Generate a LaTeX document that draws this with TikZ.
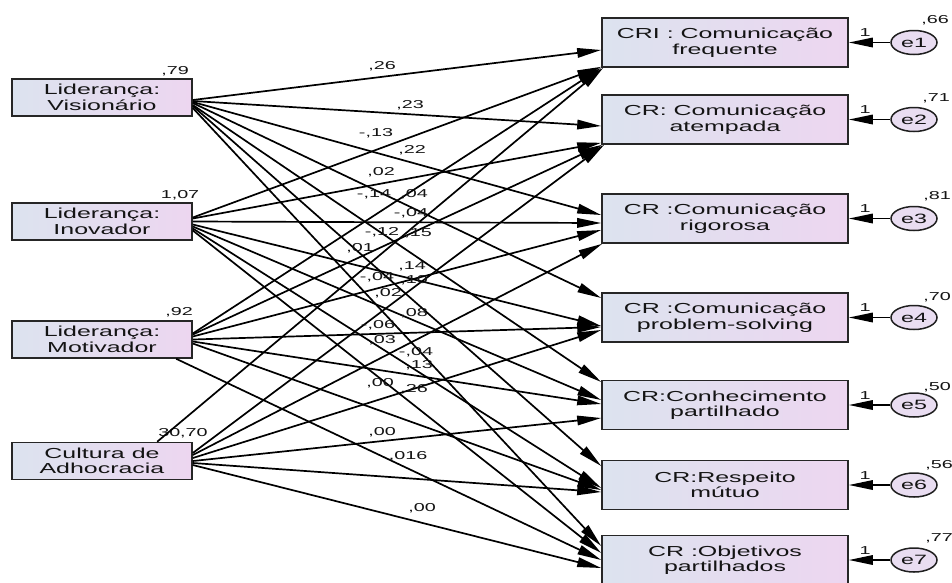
\documentclass[tikz,border=0pt]{standalone}
\usepackage{fontspec}
\setmainfont{Liberation Sans}
\newfontfamily\widesans[FakeStretch=1.72]{Liberation Sans}
\usetikzlibrary{arrows.meta,calc,shapes.geometric}
\definecolor{boxL}{RGB}{220,227,239}
\definecolor{boxR}{RGB}{237,214,240}
\definecolor{errfill}{RGB}{233,221,241}
\begin{document}
\begin{tikzpicture}[x=1pt,y=-1pt,
  every node/.style={text=black!92},
  varbox/.style={draw=black!85, line width=1.6pt, left color=boxL, right color=boxR,
    inner sep=0pt, align=center, font=\widesans\fontsize{14.5}{15.5}\selectfont},
  exo/.style={varbox, minimum width=180pt, minimum height=37pt},
  endo/.style={varbox, minimum width=246pt, minimum height=49pt},
  err/.style={ellipse, draw=black!88, line width=1.5pt, fill=errfill,
    minimum width=46pt, minimum height=24pt, inner sep=0pt,
    font=\widesans\fontsize{13.5}{13.5}\selectfont},
  coef/.style={inner sep=0pt, font=\widesans\fontsize{11.5}{11.5}\selectfont},
  regpath/.style={line width=1.7pt, -{Triangle[length=24pt,width=9.5pt]}},
]
\useasboundingbox[fill=white] (0,0) rectangle (952,582);

% exogenous variables
\node[exo] (vis) at (102,97.5)  {Liderança:\\Visionário};
\node[exo] (ino) at (102,221.5) {Liderança:\\Inovador};
\node[exo] (mot) at (102,339.5) {Liderança:\\Motivador};
\node[exo] (cul) at (102,461)   {Cultura de\\Adhocracia};

% endogenous variables
\node[endo] (r1) at (725,42.5)  {CRI : Comunicação\\frequente};
\node[endo] (r2) at (725,119.5) {CR: Comunicação\\atempada};
\node[endo] (r3) at (725,218.5) {CR :Comunicação\\rigorosa};
\node[endo] (r4) at (725,317.5) {CR :Comunicação\\problem-solving};
\node[endo] (r5) at (725,405)   {CR:Conhecimento\\partilhado};
\node[endo] (r6) at (725,485)   {CR:Respeito\\mútuo};
\node[endo] (r7) at (725,560)   {CR :Objetivos\\partilhados};

% error terms
\foreach \i/\y in {1/42.5,2/119.5,3/218.5,4/317.5,5/405,6/485,7/560}{
  \node[err] (e\i) at (914,\y) {e\i};
  \draw[regpath] (e\i) -- (r\i);
  \node[coef] at (865,\y-9.5) {1};
}

% variances
\node[coef] at (175,71)  {,79};
\node[coef] at (180,195) {1,07};
\node[coef] at (179,312) {,92};
\node[coef] at (183,433) {30,70};
\node[coef] at (935,20)  {,66};
\node[coef] at (936,98)  {,71};
\node[coef] at (937,196) {,81};
\node[coef] at (937,297) {,70};
\node[coef] at (937,387) {,50};
\node[coef] at (939,465) {,56};
\node[coef] at (939,538) {,77};

% paths from Visionario
\draw[regpath] ($(vis.east)+(0,2.5)$)  -- ($(r1.west)+(0,7.5)$);
\draw[regpath] ($(vis.east)+(0,3.5)$)  -- ($(r2.west)+(0,6.5)$);
\draw[regpath] ($(vis.east)+(0,4.5)$)  -- ($(r3.west)+(0,-3.5)$);
\draw[regpath] ($(vis.east)+(0,5.5)$)  -- ($(r4.west)+(0,-19.5)$);
\draw[regpath] ($(vis.east)+(0,7.5)$)  -- ($(r5.west)+(0,-23)$);
\draw[regpath] ($(vis.east)+(0,8.5)$)  -- ($(r6.west)+(0,-19)$);
\draw[regpath] ($(vis.east)+(0,10.5)$) -- ($(r7.west)+(0,-14)$);

% paths from Inovador
\draw[regpath] ($(ino.east)+(0,-4)$) -- ($(r1.south west)+(0,-1)$);
\draw[regpath] ($(ino.east)+(0,-3)$) -- ($(r2.south west)+(0,-2)$);
\draw[regpath] ($(ino.east)+(0,0)$)  -- ($(r3.west)+(0,4.5)$);
\draw[regpath] ($(ino.east)+(0,3)$)  -- ($(r4.west)+(0,8.5)$);
\draw[regpath] ($(ino.east)+(0,5)$)  -- ($(r5.west)+(0,-5)$);
\draw[regpath] ($(ino.east)+(0,7)$)  -- ($(r6.west)+(0,3)$);
\draw[regpath] ($(ino.east)+(0,9)$)  -- ($(r7.west)+(0,-7)$);

% paths from Motivador
\draw[regpath] ($(mot.east)+(0,-6)$) -- (r1.south west);
\draw[regpath] ($(mot.east)+(0,-5)$) -- ($(r2.south west)+(1,0)$);
\draw[regpath] ($(mot.east)+(0,-3)$) -- ($(r3.west)+(0,11.5)$);
\draw[regpath] ($(mot.east)+(0,0)$)  -- ($(r4.west)+(0,9.5)$);
\draw[regpath] ($(mot.east)+(0,2)$)  -- ($(r5.west)+(0,-1)$);
\draw[regpath] ($(mot.east)+(0,4)$)  -- ($(r6.west)+(0,5)$);
\draw[regpath] ($(mot.south west)+(165,0)$) -- ($(r7.west)+(0,0)$);

% paths from Cultura de Adhocracia
\draw[regpath] ($(cul.north west)+(146,0)$) -- ($(r1.south west)+(2,0)$);
\draw[regpath] ($(cul.east)+(0,-8)$) -- ($(r2.south west)+(3,0)$);
\draw[regpath] ($(cul.east)+(0,-6)$) -- ($(r3.south west)+(1,0)$);
\draw[regpath] ($(cul.east)+(0,-3)$) -- ($(r4.west)+(0,12.5)$);
\draw[regpath] ($(cul.east)+(0,0)$)  -- ($(r5.west)+(0,13)$);
\draw[regpath] ($(cul.east)+(0,2)$)  -- ($(r6.west)+(0,7)$);
\draw[regpath] ($(cul.east)+(0,4)$)  -- ($(r7.west)+(0,8)$);

% regression weights
\node[coef] at (382,66)  {,26};
\node[coef] at (410,105) {,23};
\node[coef] at (376,133) {-,13};
\node[coef] at (412,150) {,22};
\node[coef] at (381,172) {,02};
\node[coef] at (374,194) {-,14};
\node[coef] at (414,194) {,04};
\node[coef] at (411,213) {-,04};
\node[coef] at (382,232) {-,12};
\node[coef] at (418,233) {,15};
\node[coef] at (360,248) {,01};
\node[coef] at (377,277) {-,04};
\node[coef] at (412,266) {,14};
\node[coef] at (414,280) {,10};
\node[coef] at (388,293) {,02};
\node[coef] at (414,313) {,08};
\node[coef] at (378,325) {-,06};
\node[coef] at (382,340) {,03};
\node[coef] at (416,352) {-,04};
\node[coef] at (419,365) {,13};
\node[coef] at (380,383) {,00};
\node[coef] at (414,389) {,26};
\node[coef] at (382,432) {,00};
\node[coef] at (408,456) {,016};
\node[coef] at (422,508) {,00};
\end{tikzpicture}
\end{document}
